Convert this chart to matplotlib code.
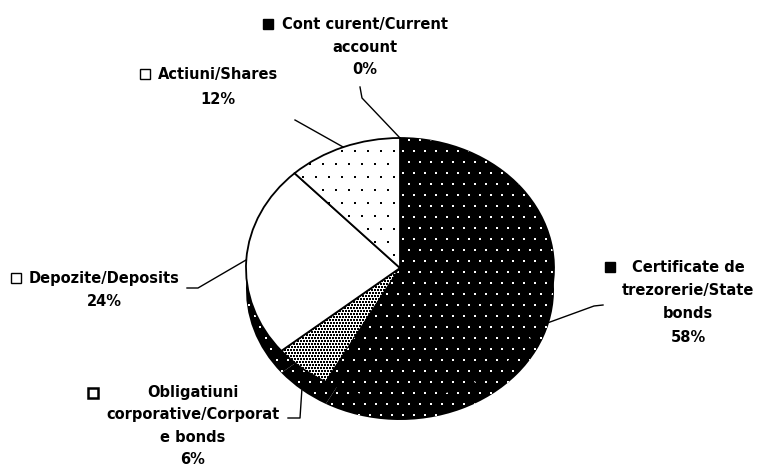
import numpy as np
import matplotlib
matplotlib.use("Agg")
import matplotlib.pyplot as plt

plt.rcParams['font.family'] = ['DejaVu Sans']

# data, clockwise from 12 o'clock
labels = [
    ["Cont curent/Current", "account"],
    ["Certificate de", "trezorerie/State", "bonds"],
    ["Obligatiuni", "corporative/Corporat", "e bonds"],
    ["Depozite/Deposits"],
    ["Actiuni/Shares"],
]
values = [0, 58, 6, 24, 12]

faces = ['black', 'black', 'white', 'white', 'white']
# dot texture per slice: (dot colour, spacing in px, dot size) or None
textures = [None, ('white', 11, 1.6), ('black', 3.0, 2.2), None,
            ('black', 13, 1.6)]

# pie geometry in pixels (3d look: top face plus a wall)
cx, cy, rx, ry, wall = 400, 268, 154, 130, 22

fig = plt.figure(figsize=(7.57, 4.68), dpi=100)

axp = fig.add_axes([(cx - rx) / 757, (468 - (cy + ry + wall + 4)) / 468,
                    2 * rx / 757, (2 * ry + wall + 8) / 468])


def add_dots(wedge, color, spacing, size=1.6):
    ys = np.arange(-1.3, 1.1, spacing / ry)
    px, py = [], []
    for k, y in enumerate(ys):
        xs = np.arange(-1.05 + (k % 2) * spacing / rx / 2, 1.05, spacing / rx)
        px.extend(xs)
        py.extend([y] * len(xs))
    sc = axp.scatter(px, py, s=size, c=color, marker='s', linewidths=0,
                     zorder=wedge.get_zorder() + 0.1)
    sc.set_clip_path(wedge)


# wall
wall_w, _ = axp.pie(values, startangle=90, counterclock=False,
                    center=(0, -wall / ry), colors=['black'] * len(values),
                    wedgeprops=dict(linewidth=0))
for w in wall_w:
    add_dots(w, 'white', 11)
# top face
top, _ = axp.pie(values, startangle=90, counterclock=False, colors=faces,
                 wedgeprops=dict(linewidth=1.3, edgecolor='black'))
for w in top:
    w.set_zorder(3)
for w, tex in zip(top, textures):
    if tex:
        add_dots(w, tex[0], tex[1], tex[2])
axp.set_aspect('auto')
axp.set_xlim(-1, 1)
axp.set_ylim(-1 - (wall + 4) / ry, 1 + 4 / ry)
axp.axis('off')

# overlay in pixel coordinates for labels and leader lines
ax = fig.add_axes([0, 0, 1, 1])
ax.set_xlim(0, 757)
ax.set_ylim(468, 0)
ax.axis('off')

text_x = [365, 688, 193, 104, 218]
text_y = [24, 268, 392, 278, 74]
steps = [23, 23, 22.5, 23, 26]
markers = [(268, 24, 'black'), (610, 267, 'black'), (93, 393, 'white'),
           (16, 278, 'white'), (145, 74, 'white')]
leaders = [
    [(362, 98), (360, 87)],
    [(594, 306), (603, 305)],
    [(300, 418), (288, 418)],
    [(198, 288), (187, 288)],
    [(295, 120)],
]

cum = 0
for i, v in enumerate(values):
    theta = np.deg2rad(90 - 3.6 * (cum + v / 2))
    cum += v
    px = cx + rx * np.cos(theta)
    py = cy - ry * np.sin(theta)
    if np.sin(theta) < 0:
        py += wall
    pts = [(px, py)] + leaders[i]
    ax.plot([p[0] for p in pts], [p[1] for p in pts], color='black', lw=1.0)

    lines = labels[i] + [f"{v}%"]
    for j, line in enumerate(lines):
        ax.text(text_x[i], text_y[i] + j * steps[i], line, ha='center',
                va='center', fontsize=10.5, fontweight='bold', color='black')
    mx, my, mc = markers[i]
    ax.plot(mx, my, marker='s', markersize=6.5, mfc=mc, mec='black',
            mew=1.8 if i == 2 else 1.0)

fig.savefig('out.png', dpi=100)
